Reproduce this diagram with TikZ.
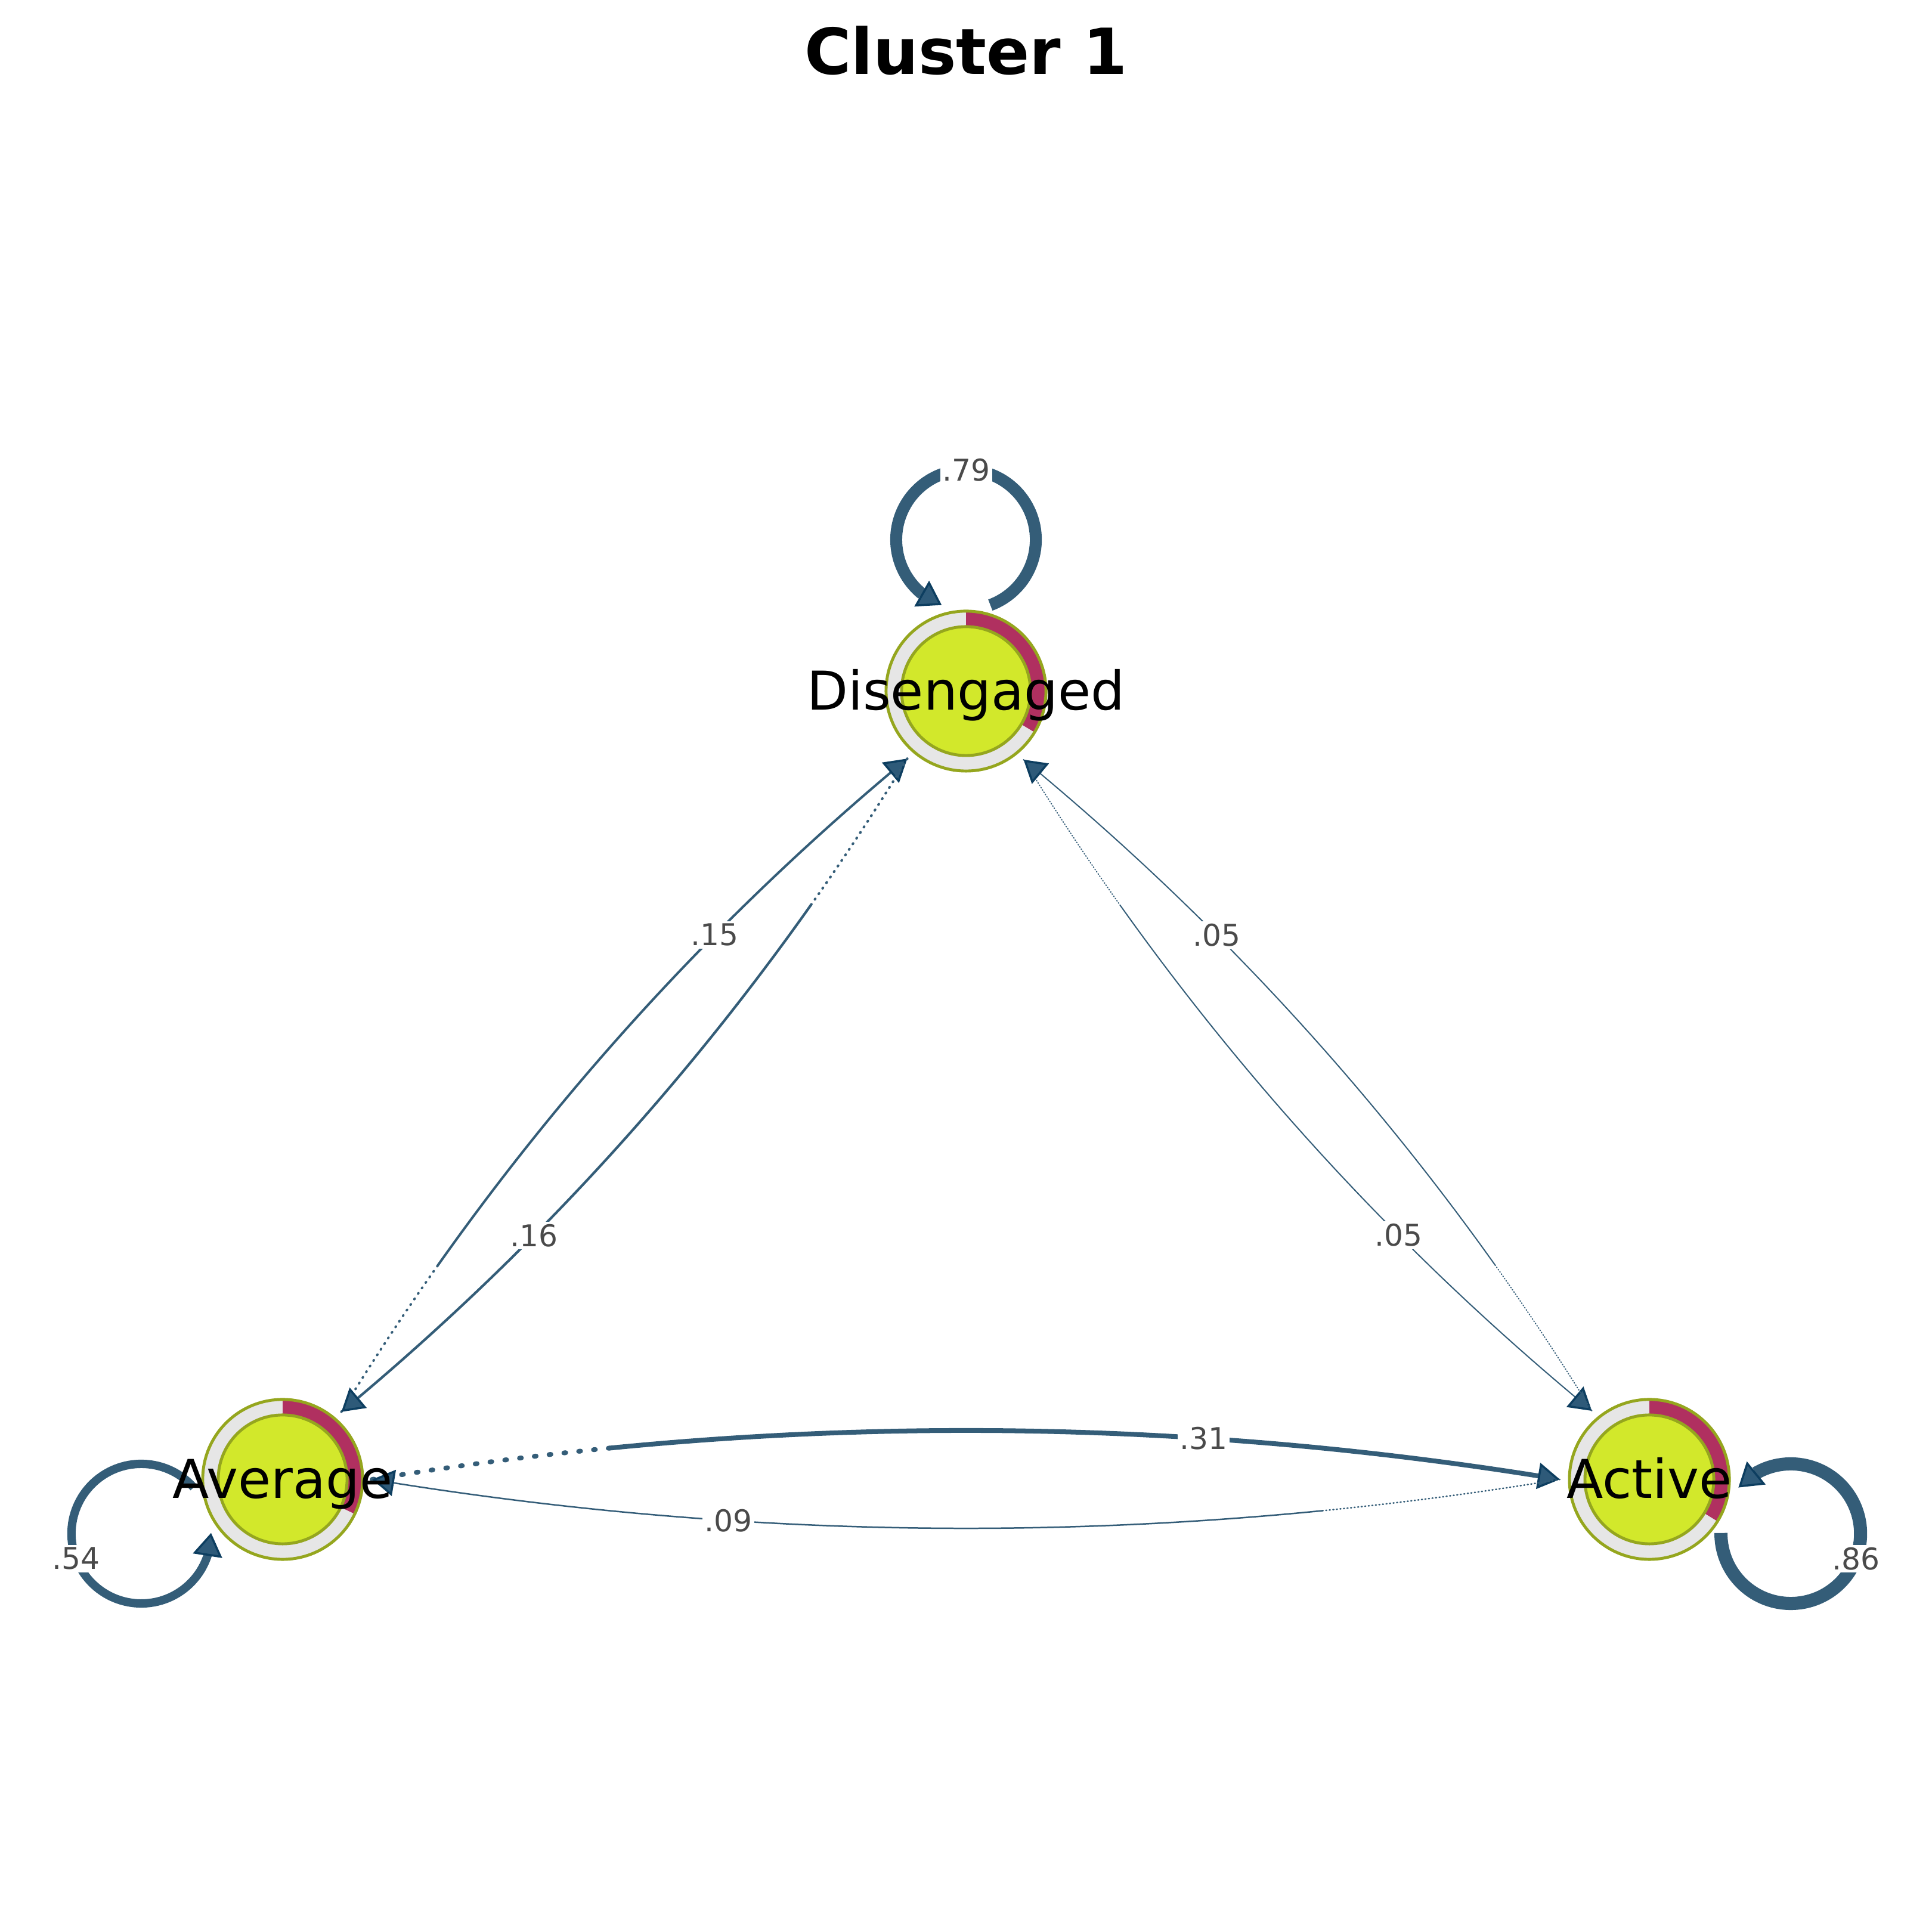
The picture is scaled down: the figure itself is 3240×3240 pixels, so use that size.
\documentclass[tikz,border=0pt]{standalone}
\usepackage{fontspec}
\setmainfont{DejaVu Sans}
\usetikzlibrary{calc,arrows.meta,bending}
\definecolor{edgeblue}{HTML}{345D78}
\definecolor{arrowfill}{HTML}{2E5A79}
\definecolor{arrowdraw}{HTML}{0D3E60}
\definecolor{ringgray}{HTML}{E6E6E6}
\definecolor{piered}{HTML}{B03060}
\definecolor{nodefill}{HTML}{D2E82B}
\definecolor{nodeborder}{HTML}{95A61E}
\definecolor{labgray}{HTML}{4A4A4A}
% ring with pie share: #1 node, #2 end angle of the red share
\newcommand\tnaring[2]{%
  \fill[ringgray] (#1.center) circle[radius=1.34cm];
  \fill[piered] ($(#1.center)+(90:1.34cm)$) arc[start angle=90,end angle=#2,radius=1.34cm]
     -- ($(#1.center)+(#2:1.08cm)$) arc[start angle=#2,end angle=90,radius=1.08cm] -- cycle;
  \draw[nodeborder,line width=1.4pt] (#1.center) circle[radius=1.34cm];
  \filldraw[fill=nodefill,draw=nodeborder,line width=1.4pt] (#1.center) circle[radius=1.08cm];
}
% curved edge: #1 src, #2 src anchor angle, #3 tgt, #4 tgt anchor angle,
% #5 bend offset, #6 line width, #7 dash pattern, #8 label, #9 id
\newcommand\tnaedge[9]{%
  \coordinate (#9-c) at ($(#1.#2)!0.5!(#3.#4)!#5!90:(#3.#4)$);
  \coordinate (#9-a) at ($(#1.#2)!0.2!(#9-c)$);
  \coordinate (#9-b) at ($(#9-c)!0.2!(#3.#4)$);
  \coordinate (#9-s) at ($(#9-a)!0.2!(#9-b)$);
  \draw[edgeline, line width=#6, dash pattern=#7] (#1.#2) .. controls ($(#1.#2)!2/3!(#9-a)$) and ($(#9-s)!2/3!(#9-a)$) .. (#9-s);
  \draw[edgeline, line width=#6, tipped] (#9-s) .. controls ($(#9-s)!2/3!(#9-b)$) and ($(#3.#4)!2/3!(#9-b)$) .. (#3.#4)
     node[elabel, pos=0.625] (#9-lab) {#8};
}
\begin{document}
\begin{tikzpicture}[x=0.01cm, y=0.01cm,
  hub/.style={circle, minimum size=3cm, inner sep=0pt, outer sep=0pt},
  statetext/.style={font=\fontsize{25.5}{30}\selectfont, text=black, anchor=base, inner sep=0pt},
  titletext/.style={font=\fontsize{30.3}{36}\selectfont\bfseries, text=black, anchor=base, inner sep=0pt},
  elabel/.style={font=\fontsize{14.3}{16}\selectfont, text=labgray, fill=white, inner xsep=1pt, inner ysep=1.2pt},
  edgeline/.style={draw=edgeblue, line cap=round},
  tipped/.style={-{Triangle[length=10.5pt,width=12.5pt,fill=arrowfill,color=arrowdraw,line width=1pt]}},
  looptip/.style={-{Triangle[length=11pt,width=14pt,fill=arrowfill,color=arrowdraw,line width=1pt]}},
  loopline/.style={draw=edgeblue}
]
\fill[white] (0,0) rectangle (3240,3240);
\useasboundingbox (0,0) rectangle (3240,3240);

\node[hub] (dis) at (1620,2081) {};
\node[hub] (avg) at (474,759) {};
\node[hub] (act) at (2766,759) {};

\tnaring{dis}{-31}
\tnaring{avg}{-25.6}
\tnaring{act}{-31.6}

% edges
\tnaedge{avg}{49.08}{dis}{229.08}{1.2cm}{1.14pt}{on 0.3pt off 2.9pt}{.15}{ad}
\tnaedge{dis}{229.08}{avg}{49.08}{1.2cm}{1.2pt}{on 0.3pt off 2.9pt}{.16}{da}
\tnaedge{dis}{310.92}{act}{130.92}{-1.2cm}{0.57pt}{on 0.3pt off 1pt}{.05}{dt}
\tnaedge{act}{130.92}{dis}{310.92}{-1.2cm}{0.57pt}{on 0.3pt off 1pt}{.05}{td}
\tnaedge{avg}{0}{act}{180}{1.64cm}{2.28pt}{on 0.9pt off 6.2pt}{.31}{at}
\tnaedge{act}{180}{avg}{0}{1.64cm}{0.71pt}{on 0.4pt off 1.3pt}{.09}{ta}

% self loops
\coordinate (dis-loop) at (1620,2335);
\coordinate (avg-loop) at (236.9,668);
\coordinate (act-loop) at (3003.1,668);
\draw[loopline, line width=5.7pt, looptip] ($(dis-loop)+(-69.6:1.17cm)$) arc[start angle=-69.6, end angle=249.6, radius=1.17cm];
\draw[loopline, line width=4pt, looptip] ($(avg-loop)+(41.4:1.17cm)$) arc[start angle=41.4, end angle=360.6, radius=1.17cm];
\draw[loopline, line width=6.26pt, looptip] ($(act-loop)+(179.4:1.17cm)$) arc[start angle=179.4, end angle=498.6, radius=1.17cm];

\node[elabel] (l79) at ($(dis-loop)+(90:1.17cm)$) {.79};
\node[elabel] (l54) at ($(avg-loop)+(201:1.17cm)$) {.54};
\node[elabel] (l86) at ($(act-loop)+(-21:1.17cm)$) {.86};

% state names
\node[statetext] (dis-name) at ($(dis)+(0,-32)$) {Disengaged};
\node[statetext] (avg-name) at ($(avg)+(0,-32)$) {Average};
\node[statetext] (act-name) at ($(act)+(0,-32)$) {Active};

\node[titletext] (title) at (1620,3115) {Cluster 1};
\end{tikzpicture}
\end{document}
